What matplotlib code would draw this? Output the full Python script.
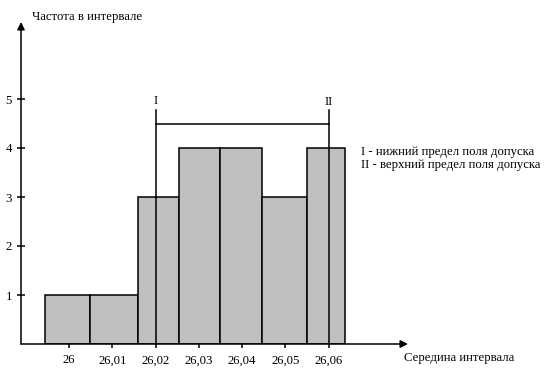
import matplotlib
matplotlib.use("Agg")
import matplotlib.pyplot as plt

# ---------------- data ----------------
# interval midpoints shown on the x axis
mids = [26.00, 26.01, 26.02, 26.03, 26.04, 26.05, 26.06]
mid_labels = ["26", "26,01", "26,02", "26,03", "26,04", "26,05", "26,06"]
# bar edges as drawn (the bars are not centred on the ticks)
edges = [25.9944, 26.0049, 26.0159, 26.0255, 26.035, 26.0445, 26.055, 26.0638]
counts = [1, 1, 3, 4, 4, 3, 4]
y_ticks = [1, 2, 3, 4, 5]
# tolerance limits
lower_lim = 26.02
upper_lim = 26.06
W, H = 546, 377
fs = 9.2

plt.rcParams['font.family'] = ['Liberation Serif', 'DejaVu Serif']

fig = plt.figure(figsize=(W / 100, H / 100), dpi=100)
fig.patch.set_facecolor('white')

# axes placed in pixel terms: y axis at x=21, x axis at y=344
x0, x1 = 21, 408
y0, y1 = 344, 22
ax = fig.add_axes([x0 / W, 1 - y0 / H, (x1 - x0) / W, (y0 - y1) / H])
ax.set_xlim(25.98885, 26.07839)
ax.set_ylim(0, (y0 - y1) / 49.0)
ax.patch.set_alpha(0)
for s in ax.spines.values():
    s.set_visible(False)

# axes with arrows
arr = dict(arrowstyle='-|>', color='black', lw=1.1, mutation_scale=11, shrinkA=0, shrinkB=0)
ax.annotate('', xy=(1, 0), xytext=(0, 0), xycoords='axes fraction', arrowprops=arr)
ax.annotate('', xy=(0, 1), xytext=(0, 0), xycoords='axes fraction', arrowprops=arr)

# histogram bars
widths = [edges[i + 1] - edges[i] for i in range(len(counts))]
ax.bar(edges[:-1], counts, width=widths, align='edge', color='#c0c0c0',
       edgecolor='black', linewidth=1.1, zorder=2)

# tolerance lines and bracket
top = 4.78
bracket = 4.48
ax.plot([lower_lim, lower_lim], [0, top], color='black', lw=1.1, zorder=3)
ax.plot([upper_lim, upper_lim], [0, top], color='black', lw=1.1, zorder=3)
ax.plot([lower_lim, upper_lim], [bracket, bracket], color='black', lw=1.1, zorder=3)
ax.text(lower_lim, 4.95, 'I', ha='center', va='center', fontsize=fs)
ax.text(upper_lim, 4.93, 'II', ha='center', va='center', fontsize=fs)

# ticks
ax.set_xticks(mids)
ax.set_xticklabels(mid_labels, fontsize=fs)
ax.set_yticks(y_ticks)
ax.set_yticklabels([str(v) for v in y_ticks], fontsize=fs)
ax.tick_params(axis='both', direction='inout', length=6, width=1.1, color='black')
ax.tick_params(axis='x', pad=4.5)
ax.tick_params(axis='y', pad=3.5)

# texts
fig.text(32 / W, 1 - 17 / H, 'Частота в интервале', ha='left', va='center', fontsize=fs)
fig.text(404 / W, 1 - 358 / H, 'Середина интервала', ha='left', va='center', fontsize=fs)
fig.text(361 / W, 1 - 152 / H, 'I - нижний предел поля допуска', ha='left', va='center', fontsize=fs)
fig.text(361 / W, 1 - 165 / H, 'II - верхний предел поля допуска', ha='left', va='center', fontsize=fs)

fig.savefig('out.png', dpi=100)
